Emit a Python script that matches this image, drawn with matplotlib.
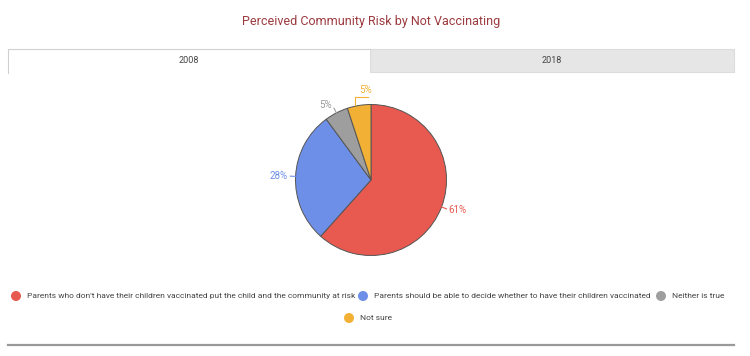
import numpy as np
import matplotlib.pyplot as plt
from matplotlib.patches import Rectangle, Circle

plt.rcParams['font.family'] = ['Roboto', 'DejaVu Sans']

# data
categories = ["Parents who don't have their children vaccinated put the child and the community at risk",
              "Parents should be able to decide whether to have their children vaccinated",
              "Neither is true",
              "Not sure"]
values = [61, 28, 5, 5]
colors = ['#e8594f', '#6d8fe8', '#9e9e9e', '#f2b134']
tabs = ['2008', '2018']
title = 'Perceived Community Risk by Not Vaccinating'

W, H = 750, 356
fig = plt.figure(figsize=(W / 100, H / 100), dpi=100)
bg = fig.add_axes([0, 0, 1, 1])
bg.set_xlim(0, W)
bg.set_ylim(H, 0)
bg.axis('off')

# title
bg.text(371, 22, title, ha='center', va='center', fontsize=9, color='#9b3a3f')

# tabs
bg.add_patch(Rectangle((370, 49), 364, 23, facecolor='#e6e6e6', edgecolor='#dcdcdc', lw=0.8))
bg.add_patch(Rectangle((8, 49), 362, 24, facecolor='white', edgecolor='none'))
bg.plot([8, 8, 370], [73, 49, 49], color='#d0d0d0', lw=0.8)
bg.text(189, 60.5, tabs[0], ha='center', va='center', fontsize=6.5, color='#444444')
bg.text(552, 60.5, tabs[1], ha='center', va='center', fontsize=6.5, color='#444444')

# bottom rule
bg.plot([8, 734], [345, 345], color='#999999', lw=1.6)

# pie
cx, cy, r = 371, 180, 75.5
pax = fig.add_axes([(cx - r) / W, (H - cy - r) / H, 2 * r / W, 2 * r / H])
wedges, _ = pax.pie(values, colors=colors, startangle=90, counterclock=False,
                    wedgeprops=dict(edgecolor='#555555', linewidth=0.7))
pax.set_xlim(-1, 1)
pax.set_ylim(-1, 1)
pax.axis('off')

# labels with leader lines
lab_r = [1.1, 1.1, 1.12, 1.15]
for i, w in enumerate(wedges):
    mid = np.deg2rad((w.theta1 + w.theta2) / 2)
    c = colors[i]
    tc = '#999999' if i == 2 else c
    x0, y0 = np.cos(mid), np.sin(mid)
    if i == 3:
        xs = [x0 - 0.05, x0 - 0.05, x0 + 0.12]
        ys = [1.0, 1.1, 1.1]
        pax.plot(xs, ys, color=c, lw=0.8, clip_on=False)
        pax.text(-0.07, 1.19, f'{values[i]}%', ha='center', va='center',
                 fontsize=7, color=c, clip_on=False)
        continue
    pax.plot([x0, x0 * 1.07], [y0, y0 * 1.07], color=c, lw=0.8, clip_on=False)
    ha = 'left' if x0 > 0.1 else ('right' if x0 < -0.1 else 'center')
    pax.text(x0 * lab_r[i], y0 * lab_r[i], f'{values[i]}%', ha=ha, va='center',
             fontsize=7, color=tc, clip_on=False)

# legend
leg_pos = [(16, 296), (363, 296), (661, 296), (349, 318)]
for (lx, ly), c, name in zip(leg_pos, colors, categories):
    bg.add_patch(Circle((lx, ly), 5, facecolor=c, edgecolor='none'))
    bg.text(lx + 11, ly, name, ha='left', va='center', fontsize=6, color='#444444')

fig.savefig('out.png', dpi=100, facecolor='white')
